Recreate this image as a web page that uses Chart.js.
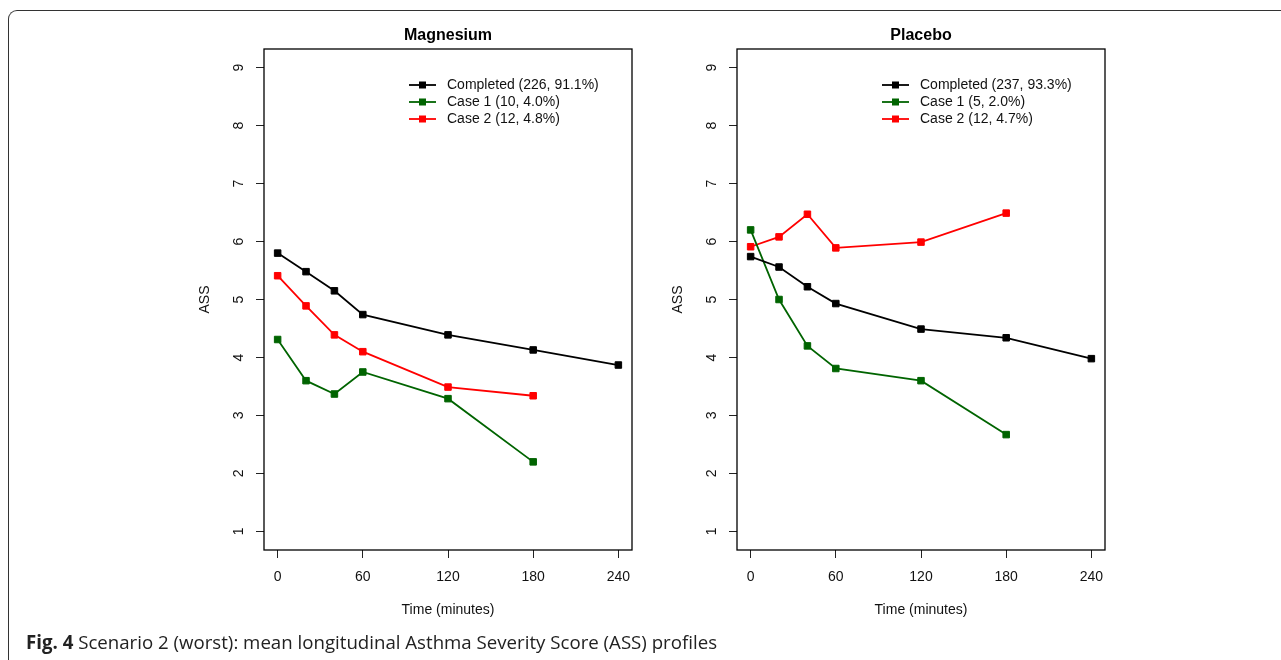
<!DOCTYPE html>
<html lang="en">
<head>
  <meta charset="UTF-8">
  <title>Fig. 4 ASS profiles</title>
  <script src="https://cdn.jsdelivr.net/npm/chart.js"></script>
  <style>
    body {
      margin: 0;
      width: 1281px;
      height: 660px;
      overflow: hidden;
      background: white;
      position: relative;
      font-family: 'Liberation Sans', Arial, sans-serif;
    }
    .frame {
      position: absolute;
      left: 8px;
      top: 10px;
      width: 1320px;
      height: 700px;
      border-top: 1.5px solid #333;
      border-left: 1.5px solid #333;
      border-top-left-radius: 9px;
    }
    .panel {
      position: absolute;
      top: 20px;
      width: 460px;
      height: 610px;
    }
    #caption {
      position: absolute;
      left: 26px;
      top: 632px;
      line-height: 20px;
      font-family: 'Open Sans', 'Noto Sans', sans-serif;
      font-size: 14.5px;
      color: #222;
      white-space: nowrap;
    }
    #caption b { font-weight: 700; }
  </style>
</head>
<body>
  <div class="frame"></div>
  <div class="panel" style="left:190px"><canvas id="mgChart"></canvas></div>
  <div class="panel" style="left:663px"><canvas id="plChart"></canvas></div>
  <div id="caption"><b>Fig. 4</b> Scenario 2 (worst): mean longitudinal Asthma Severity Score (ASS) profiles</div>

  <script type="text/javascript">
    // time points (minutes)
    const times = [0, 20, 40, 60, 120, 180, 240];
    const xTicks = [0, 60, 120, 180, 240];
    const yTicks = [1, 2, 3, 4, 5, 6, 7, 8, 9];

    // Magnesium
    const mgCompleted = [5.80, 5.48, 5.15, 4.74, 4.39, 4.13, 3.87];
    const mgCase1 = [4.31, 3.60, 3.37, 3.75, 3.29, 2.20];
    const mgCase2 = [5.41, 4.89, 4.39, 4.10, 3.49, 3.34];
    const mgLabels = ['Completed (226, 91.1%)', 'Case 1 (10, 4.0%)', 'Case 2 (12, 4.8%)'];

    // Placebo
    const plCompleted = [5.74, 5.56, 5.22, 4.93, 4.49, 4.34, 3.98];
    const plCase1 = [6.20, 5.00, 4.20, 3.81, 3.60, 2.67];
    const plCase2 = [5.91, 6.08, 6.47, 5.89, 5.99, 6.49];
    const plLabels = ['Completed (237, 93.3%)', 'Case 1 (5, 2.0%)', 'Case 2 (12, 4.7%)'];

    const colors = ['#000000', '#006400', '#ff0000'];
    const FONT = "'Liberation Sans', Arial, sans-serif";

    function points(vals) {
      return vals.map((v, i) => ({ x: times[i], y: v }));
    }

    // axes, box, title and legend drawn R-style
    const rStyle = {
      id: 'rStyle',
      afterDraw(chart, args, opts) {
        const ctx = chart.ctx;
        const a = chart.chartArea;
        const xs = chart.scales.x, ys = chart.scales.y;
        ctx.save();
        ctx.strokeStyle = '#000';
        ctx.lineWidth = 1.3;
        ctx.strokeRect(a.left, a.top, a.right - a.left, a.bottom - a.top);

        ctx.fillStyle = '#000';
        ctx.font = 'bold 16px ' + FONT;
        ctx.textAlign = 'center';
        ctx.textBaseline = 'middle';
        ctx.fillText(opts.title, (a.left + a.right) / 2, 16);

        ctx.font = '14px ' + FONT;
        ctx.fillStyle = '#111';
        xTicks.forEach(t => {
          ctx.fillText(String(t), xs.getPixelForValue(t), a.bottom + 27);
        });
        ctx.fillText('Time (minutes)', (a.left + a.right) / 2, a.bottom + 60);

        yTicks.forEach(t => {
          ctx.save();
          ctx.translate(a.left - 25, ys.getPixelForValue(t));
          ctx.rotate(-Math.PI / 2);
          ctx.fillText(String(t), 0, 0);
          ctx.restore();
        });
        ctx.save();
        ctx.translate(a.left - 59, (a.top + a.bottom) / 2);
        ctx.rotate(-Math.PI / 2);
        ctx.fillText('ASS', 0, 0);
        ctx.restore();

        // legend
        ctx.textAlign = 'left';
        chart.data.datasets.forEach((ds, i) => {
          const y = a.top + 36 + i * 17;
          ctx.strokeStyle = ds.borderColor;
          ctx.lineWidth = 1.8;
          ctx.beginPath();
          ctx.moveTo(a.left + 145, y);
          ctx.lineTo(a.left + 172, y);
          ctx.stroke();
          ctx.fillStyle = ds.borderColor;
          ctx.fillRect(a.left + 158.5 - 3.5, y - 3.5, 7, 7);
          ctx.fillStyle = '#111';
          ctx.fillText(ds.label, a.left + 183, y);
        });
        ctx.restore();
      }
    };

    function makeChart(id, title, labels, series) {
      return new Chart(document.getElementById(id), {
        type: 'line',
        data: {
          datasets: series.map((vals, i) => ({
            label: labels[i],
            data: points(vals),
            borderColor: colors[i],
            backgroundColor: colors[i],
            borderWidth: 1.8,
            pointStyle: 'rect',
            pointRadius: 4.6,
            pointBorderWidth: 1,
            pointBorderColor: colors[i],
            pointBackgroundColor: colors[i],
            tension: 0
          }))
        },
        options: {
          responsive: true,
          maintainAspectRatio: false,
          animation: false,
          layout: { padding: { top: 29, right: 18, left: 0, bottom: 0 } },
          plugins: {
            legend: { display: false },
            tooltip: { enabled: false },
            rStyle: { title: title }
          },
          scales: {
            x: {
              type: 'linear',
              min: -9.6,
              max: 249.6,
              afterBuildTicks: s => { s.ticks = xTicks.map(v => ({ value: v })); },
              afterFit: s => { s.height = 80; },
              ticks: { display: false },
              border: { display: false },
              grid: { display: true, drawOnChartArea: false, drawTicks: true, tickLength: 8, color: '#222', lineWidth: 1 }
            },
            y: {
              type: 'linear',
              min: 0.68,
              max: 9.32,
              afterBuildTicks: s => { s.ticks = yTicks.map(v => ({ value: v })); },
              afterFit: s => { s.width = 74; },
              ticks: { display: false },
              border: { display: false },
              grid: { display: true, drawOnChartArea: false, drawTicks: true, tickLength: 8, color: '#222', lineWidth: 1 }
            }
          }
        },
        plugins: [rStyle]
      });
    }

    makeChart('mgChart', 'Magnesium', mgLabels, [mgCompleted, mgCase1, mgCase2]);
    makeChart('plChart', 'Placebo', plLabels, [plCompleted, plCase1, plCase2]);

    // fit caption to the printed width
    const cap = document.getElementById('caption');
    const w = cap.getBoundingClientRect().width;
    cap.style.fontSize = (14.5 * 691 / w).toFixed(2) + 'px';
  </script>
</body>
</html>
